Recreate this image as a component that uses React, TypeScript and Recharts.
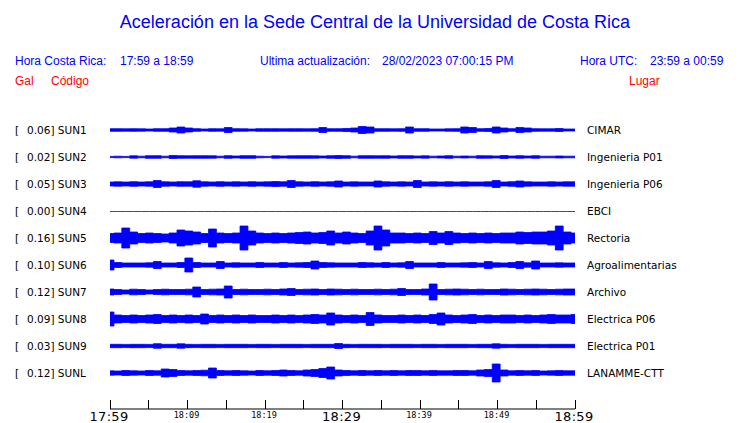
import { ComposedChart, Area, Line, XAxis, YAxis } from 'recharts'

// envelope (half-amplitude) of each trace, one value per minute, 17:59 -> 18:59
const codes = ['SUN1', 'SUN2', 'SUN3', 'SUN4', 'SUN5', 'SUN6', 'SUN7', 'SUN8', 'SUN9', 'SUNL']
const peaks = ['0.06', '0.02', '0.05', '0.00', '0.16', '0.10', '0.12', '0.09', '0.03', '0.12']
const places = [
  'CIMAR',
  'Ingenieria P01',
  'Ingenieria P06',
  'EBCI',
  'Rectoria',
  'Agroalimentarias',
  'Archivo',
  'Electrica P06',
  'Electrica P01',
  'LANAMME-CTT',
]

const sun1 = [
  1.3, 1.3, 1.2, 1.3, 1.2, 1.0, 1.3, 1.3, 2.0, 3.0, 2.0, 1.3, 1.0, 1.3, 1.2, 2.5, 1.3, 1.2, 1.0, 1.3,
  1.3, 1.3, 1.2, 1.3, 1.3, 1.2, 1.3, 2.5, 1.3, 1.3, 1.5, 2.0, 3.5, 3.0, 1.3, 1.3, 1.2, 1.3, 3.0, 1.3,
  1.3, 1.0, 1.0, 1.2, 1.3, 3.0, 2.5, 1.3, 1.5, 3.0, 2.0, 1.3, 2.5, 2.0, 1.3, 1.2, 1.2, 1.5, 1.0, 1.0,
]
const sun2 = [
  0.6, 0.8, 0.6, 1.2, 0.8, 1.3, 1.3, 0.8, 1.5, 1.3, 1.2, 1.3, 1.3, 1.2, 0.8, 1.3, 1.0, 1.3, 1.3, 0.8,
  0.6, 1.2, 1.0, 1.2, 1.3, 1.3, 1.2, 1.0, 1.3, 1.5, 1.3, 0.8, 1.3, 1.3, 1.2, 1.3, 1.0, 1.3, 1.3, 1.0,
  1.2, 0.8, 1.0, 1.3, 0.8, 1.0, 0.8, 1.3, 1.2, 1.0, 1.5, 1.0, 1.3, 1.0, 1.3, 0.8, 0.8, 1.0, 0.8, 0.8,
]
const sun3 = [
  2.0, 2.2, 2.0, 2.3, 2.0, 2.2, 3.5, 2.2, 2.0, 2.3, 2.2, 3.2, 2.2, 2.0, 2.3, 2.0, 2.2, 2.0, 2.3, 2.0,
  2.2, 2.5, 2.2, 3.5, 2.2, 2.0, 2.3, 2.0, 2.2, 3.0, 2.0, 2.2, 2.0, 2.0, 3.0, 2.2, 2.0, 2.2, 2.0, 3.5,
  2.0, 2.2, 2.0, 2.3, 2.0, 2.2, 2.0, 2.0, 2.2, 3.5, 2.0, 2.3, 3.0, 2.2, 2.0, 2.0, 2.2, 2.0, 2.2, 2.2,
]
const sun4 = [
  0, 0, 0, 0, 0, 0, 0, 0, 0, 0, 0, 0, 0, 0, 0, 0, 0, 0, 0, 0,
  0, 0, 0, 0, 0, 0, 0, 0, 0, 0, 0, 0, 0, 0, 0, 0, 0, 0, 0, 0,
  0, 0, 0, 0, 0, 0, 0, 0, 0, 0, 0, 0, 0, 0, 0, 0, 0, 0, 0, 0,
]
const sun5 = [
  4.5, 5, 10, 6, 4.5, 5, 4.5, 4, 5, 8, 7, 6, 4.5, 9, 5, 4.5, 5, 12, 7, 5,
  4.5, 5, 4.5, 5, 5.5, 6, 5, 5.5, 7, 5, 6, 5, 4.5, 7, 12, 8, 5, 5, 4.5, 5,
  4.5, 6.5, 5, 6.5, 5, 4.5, 5, 4.5, 5, 4.5, 5, 5, 6, 5.5, 6, 6, 7, 12, 6, 5,
]
const sun6 = [
  5, 2.5, 2, 2, 2, 2.2, 3.5, 2, 2, 2.5, 7, 2.5, 2, 2, 3.5, 2, 2.2, 2, 2, 2.5,
  2, 2, 2.5, 2, 2.2, 2.5, 4, 2.5, 2.2, 2, 2, 2, 2.5, 2.2, 2, 2.5, 2, 2.2, 3.5, 2,
  2, 2, 2.5, 2, 2, 2.2, 2.5, 2, 3.5, 2.2, 2, 2.5, 3.5, 2.2, 4, 2, 2, 2.2, 2, 2,
]
const sun7 = [
  3, 2.5, 2, 2.8, 2.5, 2, 2.5, 2.8, 2.5, 2.5, 2.8, 5, 2.5, 2.8, 3, 6, 2.5, 2.8, 2.5, 2.5,
  2.8, 2.5, 3, 3.5, 2.5, 2.8, 3, 2.5, 3, 2.8, 2.5, 2.8, 2.5, 2.5, 2.8, 2.5, 2.8, 3.5, 2.5, 2.5,
  3, 8, 2.5, 2.8, 3, 2.8, 2.5, 2.8, 2.5, 2.5, 3, 2.8, 2.5, 2.8, 3, 2.8, 2.5, 2.8, 3, 3,
]
const sun8 = [
  7, 4, 3.5, 4, 3.5, 4, 4.5, 3.5, 4, 3.5, 4, 3.5, 5, 3.5, 4, 3.5, 4, 3.5, 4, 3.5,
  3.5, 4, 3.5, 4, 3.5, 4, 4.5, 4, 6, 4, 3.5, 4, 3.5, 6.5, 4, 3.5, 3.5, 4, 3.5, 4,
  3.5, 4.5, 6, 4, 3.5, 4, 4.5, 3.5, 4, 3.5, 4, 4, 3.5, 4, 3.5, 4, 4.5, 4, 4, 4.5,
]
const sun9 = [
  1.7, 1.7, 1.6, 1.7, 1.7, 1.6, 2.3, 1.7, 1.7, 2.2, 1.7, 1.6, 1.7, 1.7, 1.6, 1.7, 1.7, 1.7, 1.6, 1.7,
  1.7, 1.6, 1.7, 1.7, 1.7, 1.6, 1.7, 1.7, 1.7, 2.5, 1.7, 1.6, 1.7, 1.7, 1.7, 1.6, 1.7, 1.7, 1.7, 1.6,
  1.7, 1.7, 1.6, 1.7, 1.7, 1.7, 1.6, 1.7, 1.7, 2.2, 1.7, 1.6, 1.7, 1.7, 1.7, 1.6, 1.7, 1.7, 1.7, 1.7,
]
const sunl = [
  2.2, 2, 2.5, 2.2, 2, 2.5, 2.2, 4, 3.5, 2.5, 2.2, 2.5, 2.8, 5, 2.5, 2.2, 2.5, 2.2, 2, 2.5,
  2.2, 2.5, 3, 2.5, 2.2, 3, 3.5, 4.5, 6, 3, 2.5, 2.2, 2.5, 2.2, 2.5, 2.2, 2.5, 2.2, 2.5, 2.5,
  2.2, 2.5, 2.2, 2.2, 2.5, 2.5, 2.2, 3, 3.5, 9, 3, 2.2, 2.5, 2.2, 2.5, 2, 2.2, 2.5, 2.2, 2.2,
]
const traces = [sun1, sun2, sun3, sun4, sun5, sun6, sun7, sun8, sun9, sunl]

const ticks = [0, 5, 10, 15, 20, 25, 30, 35, 40, 45, 50, 55, 60]
const tickLabels: Record<number, string> = { 0: '17:59', 10: '18:09', 20: '18:19', 30: '18:29', 40: '18:39', 50: '18:49', 60: '18:59' }
const bigTicks = [0, 30, 60]

const W = 740
const H = 423
const ROW0 = 130
const ROW_GAP = 27
const BLUE = '#0000ff'

const data = sun1.map((_, i) => {
  const row: Record<string, number | number[]> = { t: (i * 60) / (sun1.length - 1) }
  traces.forEach((amps, k) => {
    const c = ROW0 + k * ROW_GAP
    row['s' + k] = amps[i] === 0 ? c + 0.5 : [c - amps[i], c + amps[i]]
  })
  return row
})

function TimeTick(props: any) {
  const { x, y, payload } = props
  const v = payload.value as number
  const label = tickLabels[v]
  const big = bigTicks.includes(v)
  return (
    <g>
      <line x1={x} x2={x} y1={y - 9} y2={y} stroke="#000" shapeRendering="crispEdges" />
      {label && (
        <text
          x={x - 1}
          y={big ? y + 12 : y + 9}
          textAnchor="middle"
          fontFamily={big ? 'DejaVu Sans' : 'DejaVu Sans Mono'}
          fontSize={big ? 13 : 8.5}
          letterSpacing={big ? 0.3 : 0}
          fill="#000"
        >
          {label}
        </text>
      )}
    </g>
  )
}

export default function App() {
  const hdr = { fontFamily: 'Liberation Sans, Arial, sans-serif', fontSize: 12, fill: BLUE }
  const red = { fontFamily: 'Liberation Sans, Arial, sans-serif', fontSize: 12, fill: '#ff0000' }
  const lbl = { fontFamily: 'DejaVu Sans', fontSize: 10.5, fill: '#000' }
  return (
    <div style={{ position: 'fixed', left: 0, top: 0, width: W, height: H, background: '#fff' }}>
      <ComposedChart
        width={W}
        height={H}
        data={data}
        margin={{ top: 0, right: 165, bottom: 0, left: 110 }}
        style={{ position: 'absolute', left: 0, top: 0 }}
      >
        <XAxis
          dataKey="t"
          type="number"
          domain={[0, 60]}
          ticks={ticks}
          height={14}
          tickSize={0}
          tickMargin={0}
          tickLine={false}
          stroke="#000"
          tick={<TimeTick />}
          interval={0}
        />
        <YAxis type="number" domain={[0, 409]} reversed hide />
        {traces.map((amps, k) =>
          amps.every((a) => a === 0) ? (
            <Line
              key={k}
              dataKey={'s' + k}
              stroke="#ff0000"
              strokeWidth={1}
              dot={false}
              isAnimationActive={false}
            />
          ) : (
            <Area
              key={k}
              dataKey={'s' + k}
              type="step"
              stroke={BLUE}
              strokeWidth={0.8}
              fill={BLUE}
              fillOpacity={1}
              isAnimationActive={false}
            />
          )
        )}
      </ComposedChart>
      <svg width={W} height={H} style={{ position: 'absolute', left: 0, top: 0, pointerEvents: 'none' }}>
        <text x={375} y={28} textAnchor="middle" fontFamily="Liberation Sans, Arial, sans-serif" fontSize={18} fill={BLUE}>
          Aceleración en la Sede Central de la Universidad de Costa Rica
        </text>
        <text x={15} y={65} {...hdr}>Hora Costa Rica:</text>
        <text x={120} y={65} {...hdr}>17:59 a 18:59</text>
        <text x={260} y={65} {...hdr}>Ultima actualización:</text>
        <text x={382} y={65} {...hdr}>28/02/2023 07:00:15 PM</text>
        <text x={580} y={65} {...hdr}>Hora UTC:</text>
        <text x={650} y={65} {...hdr}>23:59 a 00:59</text>
        <text x={15} y={85} {...red}>Gal</text>
        <text x={51} y={85} {...red}>Código</text>
        <text x={629} y={85} {...red}>Lugar</text>
        {codes.map((code, k) => {
          const y = ROW0 + k * ROW_GAP + 4
          return (
            <g key={code}>
              <text x={15} y={y} {...lbl}>[</text>
              <text x={27} y={y} {...lbl}>{peaks[k] + '] ' + code}</text>
              <text x={587} y={y} {...lbl}>{places[k]}</text>
            </g>
          )
        })}
      </svg>
    </div>
  )
}
